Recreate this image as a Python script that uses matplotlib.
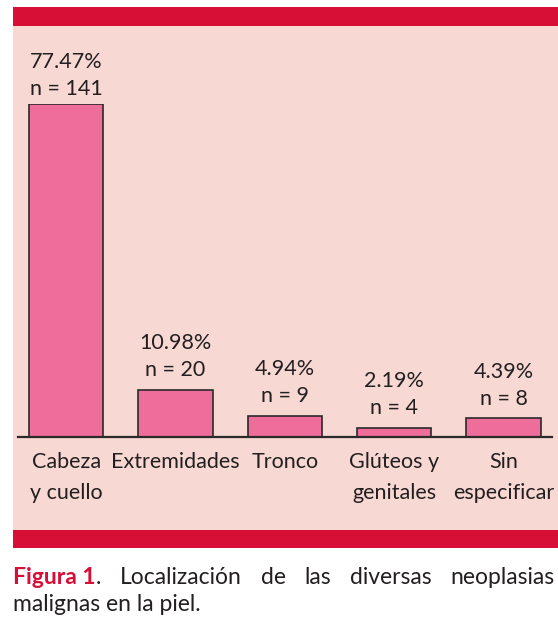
import matplotlib
matplotlib.use("Agg")
import matplotlib.pyplot as plt
from matplotlib.patches import Rectangle

categories = ["Cabeza\ny cuello", "Extremidades", "Tronco", "Glúteos y\ngenitales", "Sin\nespecificar"]
counts = [141, 20, 9, 4, 8]
percents = ["77.47%", "10.98%", "4.94%", "2.19%", "4.39%"]
caption_bold = "Figura 1"
caption_line1 = ["Localización", "de", "las", "diversas", "neoplasias"]
caption_line2 = "malignas en la piel."

FONT = "Lato"
TXT = "#231F20"
RED = "#D70F37"
PANEL = "#F7D8D3"
BAR = "#EE6D9B"
FS = 15.5

W, H = 558, 631
fig = plt.figure(figsize=(W / 100, H / 100), dpi=100, facecolor="white")

def fx(px):
    return px / W

def fy(py):
    return 1 - py / H

# panel and red bands
for (x0, y0, x1, y1c, col) in [(13, 26, 558, 530, PANEL), (13, 7, 558, 26, RED), (13, 530, 558, 548, RED)]:
    fig.patches.append(Rectangle((fx(x0), fy(y1c)), fx(x1) - fx(x0), fy(y0) - fy(y1c),
                                 transform=fig.transFigure, facecolor=col, edgecolor="none", zorder=-5))

ax = fig.add_axes([fx(18), fy(437), fx(552) - fx(18), fy(104) - fy(437)])
ax.set_facecolor("none")
ax.set_zorder(2)
x = list(range(len(categories)))
ax.bar(x, counts, width=0.68, color=BAR, edgecolor="#2a2a2a", linewidth=1.2, zorder=2)
ax.set_xlim(-0.442, 4.444)
ax.set_ylim(0, max(counts))
for s in ["top", "right", "left"]:
    ax.spines[s].set_visible(False)
ax.spines["bottom"].set_linewidth(1.6)
ax.spines["bottom"].set_color("#2a2a2a")
ax.spines["bottom"].set_zorder(3)
ax.set_yticks([])
ax.set_xticks(x)
ax.set_xticklabels(categories, fontsize=FS, family=FONT, color=TXT, linespacing=1.68,
                   multialignment="center")
ax.tick_params(axis="x", length=0, pad=11)

for xi, c, p in zip(x, counts, percents):
    off = 10.5 if c == max(counts) else 14
    ax.annotate(f"n = {c}", (xi, c), xytext=(0, off), textcoords="offset points",
                ha="center", va="center", fontsize=FS, family=FONT, color=TXT,
                annotation_clip=False)
    ax.annotate(p, (xi, c), xytext=(0, off + 19.5), textcoords="offset points",
                ha="center", va="center", fontsize=FS, family=FONT, color=TXT,
                annotation_clip=False)

# caption, justified first line
CS = 16.5
fig.canvas.draw()
r = fig.canvas.get_renderer()
y1 = fy(584)
y2 = fy(611)
t = fig.text(fx(13), y1, caption_bold, fontsize=CS, family=FONT, weight="bold",
             color=RED, va="baseline", ha="left")
bb = t.get_window_extent(r)
t2 = fig.text(bb.x1 / W, y1, ".", fontsize=CS, family=FONT, color=TXT, va="baseline", ha="left")
bb2 = t2.get_window_extent(r)
words = [fig.text(0, y1, w, fontsize=CS, family=FONT, color=TXT, va="baseline", ha="left")
         for w in caption_line1]
widths = [w.get_window_extent(r).width for w in words]
start = bb2.x1
end = 555.0
gap = (end - start - sum(widths)) / len(words)
cur = start + gap
for w, wd in zip(words, widths):
    w.set_x(cur / W)
    cur += wd + gap
fig.text(fx(13), y2, caption_line2, fontsize=CS, family=FONT, color=TXT, va="baseline", ha="left")

fig.savefig("out.png", dpi=100, facecolor="white")
